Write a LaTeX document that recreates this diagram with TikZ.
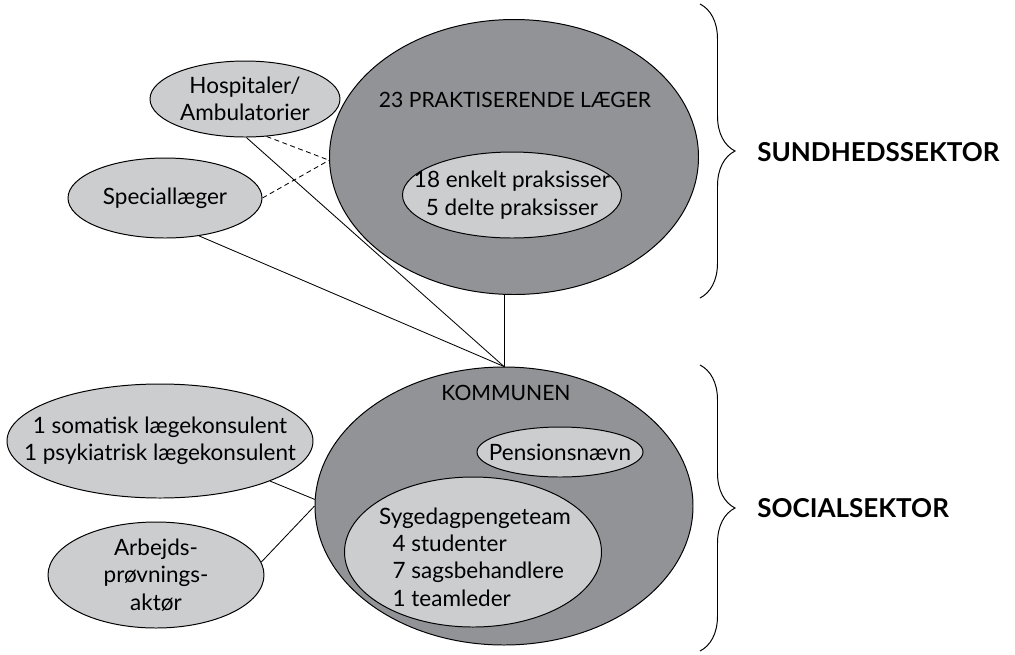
\documentclass[tikz,border=0pt]{standalone}
\usepackage{fontspec}
\setmainfont{Lato}
\usetikzlibrary{shapes.geometric,decorations.pathreplacing}
\definecolor{darkfill}{RGB}{146,147,151}
\definecolor{lightfill}{RGB}{204,205,207}
\def\pxl{0.025cm}

\begin{document}
\begin{tikzpicture}[x=0.025cm,y=-0.025cm,
  big/.style={draw,fill=darkfill,ellipse,inner sep=0pt,line width=0.7pt},
  small/.style={draw,fill=lightfill,ellipse,inner sep=0pt,line width=0.7pt},
  txt/.style={align=center,inner sep=0pt,font=\fontsize{16}{19.5}\selectfont},
  caps/.style={inner sep=0pt,font=\fontsize{15}{18}\selectfont},
  link/.style={line width=0.6pt},
  dashlink/.style={line width=0.6pt,dash pattern=on 3.5pt off 2.5pt},
  sector/.style={anchor=west,inner sep=0pt,font=\fontsize{18.5}{22}\selectfont\bfseries},
  curly/.style={line width=0.7pt,decorate,decoration={brace,amplitude=35*\pxl}}
  ]
  \useasboundingbox (0,0) rectangle (1015,654);

  % sundhedssektor
  \node[big,minimum width=369*\pxl,minimum height=275*\pxl] (prak) at (514,157) {};
  \node[caps] (prak-t) at (515,100) {23 PRAKTISERENDE LÆGER};
  \node[small,minimum width=219*\pxl,minimum height=86*\pxl] (prax) at (512,195) {};
  \node[txt] (prax-t) at (prax) {18 enkelt praksisser\\5 delte praksisser};
  \node[small,minimum width=190*\pxl,minimum height=76*\pxl] (hosp) at (245,99) {};
  \node[txt] (hosp-t) at (hosp) {Hospitaler/\\Ambulatorier};
  \node[small,minimum width=194*\pxl,minimum height=80*\pxl] (spec) at (165,198) {};
  \node[txt] (spec-t) at (spec) {Speciallæger};

  % socialsektor
  \node[big,minimum width=378*\pxl,minimum height=278*\pxl] (kom) at (504,506) {};
  \node[caps] (kom-t) at (506,393) {KOMMUNEN};
  \node[small,minimum width=166*\pxl,minimum height=50*\pxl] (pens) at (560,452) {};
  \node[txt] (pens-t) at (pens) {Pensionsnævn};
  \node[small,minimum width=257*\pxl,minimum height=150*\pxl] (syge) at (473,552) {};
  \node[txt,align=left] (syge-t) at (475,557) {Sygedagpengeteam\\
    \hspace*{0.6em}4 studenter\\ \hspace*{0.6em}7 sagsbehandlere\\ \hspace*{0.6em}1 teamleder};
  \node[small,minimum width=306*\pxl,minimum height=114*\pxl] (soma) at (160,441) {};
  \node[txt] (soma-t) at (soma) {1 somatisk lægekonsulent\\1 psykiatrisk lægekonsulent};
  \node[small,minimum width=216*\pxl,minimum height=106*\pxl] (arb) at (156,575) {};
  \node[txt] (arb-t) at (arb) {Arbejds-\\prøvnings-\\aktør};

  % forbindelser
  \draw[link] (hosp.-88) -- (kom.north);
  \draw[link] (spec.-48) -- (kom.north);
  \draw[link] (prak.south -| kom.north) -- (kom.north);
  \draw[dashlink] (hosp.-60) -- (prak.181);
  \draw[dashlink] (spec.east) -- (prak.181);
  \draw[link] (soma.-20) -- (kom.178);
  \draw[link] (arb.7) -- (kom.180);

  % klammer
  \coordinate (b1) at (700,4);
  \coordinate (b2) at (700,298);
  \coordinate (b3) at (700,365);
  \coordinate (b4) at (700,651);
  \draw[curly] (b1) -- (b2);
  \draw[curly] (b3) -- (b4);
  \node[sector] (sund) at (757,152) {SUNDHEDSSEKTOR};
  \node[sector] (soc) at (757,508) {SOCIALSEKTOR};
\end{tikzpicture}
\end{document}
